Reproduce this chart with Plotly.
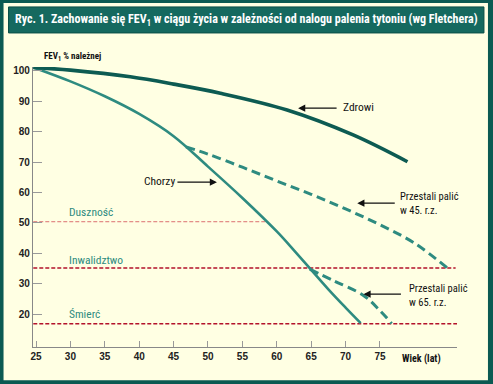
import plotly.graph_objects as go

# ---- data ----
zdrowi_age = [24.6, 30, 38.7, 45, 51.8, 61.5, 71.1, 79.0]
zdrowi_val = [101.1, 100.2, 98.0, 95.6, 92.6, 87.1, 78.9, 70.1]

chorzy_age = [24.6, 30, 35, 40, 45, 50, 55, 60, 62.5, 65, 67.5, 70, 72.2]
chorzy_val = [101.1, 96.5, 91.6, 85.8, 78.5, 68.5, 58.2, 47.2, 41.0, 34.6, 28.2, 22.2, 17.1]

quit45_age = [46.8, 50, 55, 60, 65, 70, 75, 80, 84.8]
quit45_val = [75.0, 72.6, 68.3, 63.8, 59.4, 54.6, 49.4, 43.4, 35.2]

quit65_age = [64.8, 68.2, 72.6, 75.0, 76.7]
quit65_val = [34.8, 31.1, 26.2, 21.2, 17.0]

level_names = ["Duszność", "Inwalidztwo", "Śmierć"]
level_vals = [50.4, 35.2, 16.9]
level_end = [58.6, 86.0, 86.3]

x_ticks = [25, 30, 35, 40, 45, 50, 55, 60, 65, 70, 75]
y_ticks = [20, 30, 40, 50, 60, 70, 80, 90, 100]

title = "Ryc. 1. Zachowanie się FEV<sub>1</sub> w ciągu życia w zależności od nalogu palenia tytoniu (wg Fletchera)"

# ---- style ----
CREAM = "#FFFFE3"
FRAME = "#0b5a52"
BAND = "#15695f"
DARK = "#0d5b52"
LIGHT = "#2e8b80"
RED = "#b3122b"
PINK = "#dc7070"
NARROW = "Roboto Condensed, Liberation Sans Narrow, Arial Narrow, DejaVu Sans Condensed, Liberation Sans, sans-serif"

W, H = 493, 384
L, R, T, B = 32.5, 457.0, 67.0, 346.7


def px(x):
    return (x - L) / (R - L)


def py(y):
    return (B - y) / (B - T)


fig = go.Figure()

for i, (name, v, e) in enumerate(zip(level_names, level_vals, level_end)):
    fig.add_trace(go.Scatter(
        x=[24.6, e], y=[v, v], mode="lines",
        line=dict(color=PINK if i == 0 else RED, width=1 if i == 0 else 1.5, dash="4px,2px"),
        hoverinfo="skip", showlegend=False))

fig.add_trace(go.Scatter(x=quit45_age, y=quit45_val, mode="lines",
                         line=dict(color=LIGHT, width=3, dash="9px,5px", shape="spline", smoothing=1.0),
                         showlegend=False))
fig.add_trace(go.Scatter(x=quit65_age, y=quit65_val, mode="lines",
                         line=dict(color=LIGHT, width=3, dash="9px,5px", shape="spline", smoothing=1.0),
                         showlegend=False))
fig.add_trace(go.Scatter(x=chorzy_age, y=chorzy_val, mode="lines",
                         line=dict(color=LIGHT, width=2.6, shape="spline", smoothing=1.0),
                         showlegend=False))
fig.add_trace(go.Scatter(x=zdrowi_age, y=zdrowi_val, mode="lines",
                         line=dict(color=DARK, width=3.6, shape="spline", smoothing=1.0),
                         showlegend=False))

shapes = [
    dict(type="rect", xref="paper", yref="paper", layer="below",
         x0=px(3), x1=px(488), y0=py(380), y1=py(3),
         fillcolor=CREAM, line=dict(width=0)),
    dict(type="rect", xref="paper", yref="paper", layer="below",
         x0=px(8), x1=px(484), y0=py(33), y1=py(7),
         fillcolor=BAND, line=dict(width=1, color="#0a4f47")),
]

ann = []
ann.append(dict(text="<b>" + title + "</b>", xref="paper", yref="paper",
                x=px(246), y=py(20.5), showarrow=False, xanchor="center", yanchor="middle",
                font=dict(family=NARROW, size=12, color="white")))
ann.append(dict(text="<b>FEV<sub>1</sub> % należnej</b>", xref="paper", yref="paper",
                x=px(42), y=py(57), showarrow=False, xanchor="left", yanchor="middle",
                font=dict(family=NARROW, size=9, color="#111")))
ann.append(dict(text="<b>Wiek (lat)</b>", xref="paper", yref="paper",
                x=px(400), y=py(358.5), showarrow=False, xanchor="left", yanchor="middle",
                font=dict(family=NARROW, size=10, color="#111")))

for name, v in zip(level_names, [53.6, 37.8, 20.0]):
    ann.append(dict(text=name, x=29.5, y=v, xanchor="left", yanchor="middle", showarrow=False,
                    font=dict(family=NARROW, size=11.5, color=LIGHT)))

txt = dict(family=NARROW, size=11.5, color="#111")
txt2 = dict(family=NARROW, size=10.5, color="#111")
ann.append(dict(text="Zdrowi", x=69.4, y=88.2, xanchor="left", yanchor="middle", showarrow=False, font=txt))
ann.append(dict(text="Chorzy", x=40.4, y=63.8, xanchor="left", yanchor="middle", showarrow=False, font=txt))
ann.append(dict(text="Przestali palić<br>w 45. r.z.", x=77.6, y=56.3, xanchor="left", yanchor="middle",
                align="left", showarrow=False, font=txt2))
ann.append(dict(text="Przestali palić<br>w 65. r.z.", x=79.0, y=26.2, xanchor="left", yanchor="middle",
                align="left", showarrow=False, font=txt2))

arrow = dict(text="", showarrow=True, arrowhead=2, arrowsize=1.1, arrowwidth=1.3, arrowcolor="#111",
             axref="pixel", ayref="pixel")
for (x, y, ax) in [(63.1, 87.7, 40), (51.3, 63.4, -41), (71.7, 56.5, 39), (72.6, 26.6, 39)]:
    a = dict(arrow)
    a.update(x=x, y=y, ax=ax, ay=0)
    ann.append(a)

tickfont = dict(family="Liberation Sans, Arial, sans-serif", size=10, color="#222", weight="bold")

fig.update_layout(
    width=W, height=H,
    margin=dict(l=L, r=W - R, t=T, b=H - B, pad=0, autoexpand=False),
    paper_bgcolor=FRAME, plot_bgcolor=CREAM,
    shapes=shapes, annotations=ann, showlegend=False,
    xaxis=dict(range=[24.56, 86.2], tickvals=x_ticks, ticks="inside", ticklen=6, tickwidth=1.2,
               tickcolor="#999", showline=True, linecolor="#888", linewidth=1.2, automargin=False,
               showgrid=False, zeroline=False, tickfont=tickfont),
    yaxis=dict(range=[9.25, 101.22], tickvals=y_ticks, ticks="inside", ticklen=9, tickwidth=1.2,
               tickcolor="#999", showline=True, linecolor="#888", linewidth=1.2, automargin=False,
               showgrid=False, zeroline=False, tickfont=tickfont),
)

fig.write_html("out.html", config={"displayModeBar": False},
               post_script="document.body.style.margin='0px';")
